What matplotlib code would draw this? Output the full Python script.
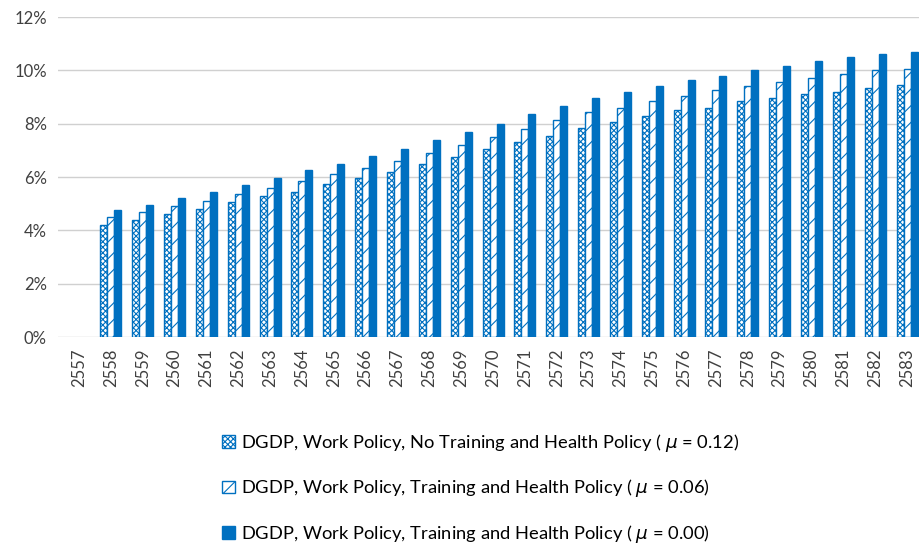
import numpy as np
import matplotlib.pyplot as plt

plt.rcParams['font.family'] = ['Lato', 'DejaVu Sans']
plt.rcParams['hatch.linewidth'] = 0.8

years = [str(y) for y in range(2557, 2584)]
# percent values (2557 has no bar)
mu012 = [np.nan, 4.2, 4.4, 4.6, 4.8, 5.05, 5.3, 5.45, 5.75, 5.95, 6.2, 6.5, 6.75,
         7.05, 7.3, 7.55, 7.85, 8.05, 8.3, 8.5, 8.6, 8.85, 8.95, 9.1, 9.2, 9.35, 9.45]
mu006 = [np.nan, 4.5, 4.7, 4.9, 5.1, 5.35, 5.6, 5.85, 6.1, 6.35, 6.6, 6.9, 7.2,
         7.5, 7.8, 8.15, 8.45, 8.6, 8.85, 9.05, 9.25, 9.4, 9.55, 9.7, 9.85, 10.0, 10.05]
mu000 = [np.nan, 4.75, 4.95, 5.2, 5.45, 5.7, 5.95, 6.25, 6.5, 6.8, 7.05, 7.4, 7.7,
         8.0, 8.35, 8.65, 8.95, 9.2, 9.4, 9.65, 9.8, 10.0, 10.15, 10.35, 10.5, 10.6, 10.7]
labels = [
    r"DGDP, Work Policy, No Training and Health Policy ( $\mu$ = 0.12)",
    r"DGDP, Work Policy, Training and Health Policy ( $\mu$ = 0.06)",
    r"DGDP, Work Policy, Training and Health Policy ( $\mu$ = 0.00)",
]

blue = '#0070C0'
fig = plt.figure(figsize=(9.2, 5.49), dpi=100)
ax = fig.add_axes([58 / 920, 0.386, 865 / 920, 0.583])

x = np.arange(len(years))
w = 0.22
b1 = ax.bar(x - w, mu012, w, color='white', edgecolor=blue, hatch='xxxxxx', linewidth=1, label=labels[0])
b2 = ax.bar(x, mu006, w, color='white', edgecolor=blue, hatch='//', linewidth=1, label=labels[1])
b3 = ax.bar(x + w, mu000, w, color=blue, edgecolor=blue, linewidth=1, label=labels[2])

ax.set_ylim(0, 12)
ax.set_xlim(-0.66, 26.5)
ax.set_yticks(range(0, 13, 2))
ax.set_yticklabels([f'{v}%' for v in range(0, 13, 2)], fontsize=12, color='#404040')
ax.set_xticks(x)
ax.set_xticklabels(years, rotation=90, fontsize=12, color='#404040')
ax.tick_params(length=0, pad=8)
ax.grid(axis='y', color='#d0d0d0', linewidth=1)
ax.set_axisbelow(True)
for s in ax.spines.values():
    s.set_visible(False)

fig.legend(handles=[b1, b2, b3], labels=labels, loc='upper left',
           bbox_to_anchor=(206 / 920, 1 - 415 / 549), frameon=False, fontsize=13.2,
           handlelength=0.7, handleheight=0.7, handletextpad=0.3, labelspacing=1.3)

fig.savefig('out.png', dpi=100)
